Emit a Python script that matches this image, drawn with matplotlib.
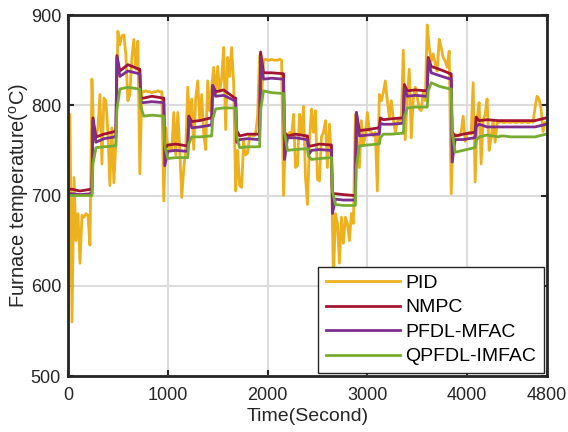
import matplotlib
matplotlib.use('Agg')
import matplotlib.pyplot as plt
import numpy as np

plt.rcParams['font.family'] = ['Liberation Sans', 'DejaVu Sans']
plt.rcParams['mathtext.fontset'] = 'custom'
plt.rcParams['mathtext.rm'] = 'Liberation Sans'

# set-point changes every 240 s
seg_start = np.arange(0, 4800, 240)

# NMPC: value just after the change, settled, mid and end of each segment
nmpc_pk = [707, 786, 855, 808, 752, 788, 822, 772, 859, 770, 755, 702, 792, 786, 823, 853, 770, 787, 783, 783]
nmpc_a = [707, 765, 838, 808, 756, 782, 815, 766, 836, 766, 755, 702, 772, 784, 816, 843, 766, 783, 783, 783]
nmpc_b = [705, 768, 845, 810, 757, 783, 817, 768, 836, 768, 757, 701, 773, 785, 817, 840, 768, 784, 783, 783]
nmpc_c = [707, 771, 840, 808, 755, 786, 808, 768, 835, 766, 756, 700, 775, 786, 816, 835, 770, 783, 783, 786]

pfdl_pk = [702, 783, 853, 803, 733, 786, 822, 759, 853, 740, 745, 680, 792, 780, 819, 851, 737, 776, 776, 776]
pfdl_a = [702, 759, 832, 803, 749, 775, 810, 762, 829, 764, 750, 696, 766, 779, 810, 836, 762, 779, 776, 776]
pfdl_b = [701, 763, 838, 804, 750, 776, 811, 763, 830, 764, 751, 695, 767, 779, 811, 833, 762, 776, 776, 776]
pfdl_c = [702, 765, 835, 803, 749, 778, 805, 762, 829, 762, 750, 695, 768, 780, 810, 829, 764, 776, 776, 779]

qp_pk = [700, 735, 795, 798, 755, 757, 785, 766, 795, 770, 744, 705, 733, 764, 787, 816, 770, 761, 766, 765]
qp_a = [700, 753, 818, 788, 741, 765, 796, 753, 816, 750, 740, 690, 755, 768, 797, 825, 748, 765, 766, 765]
qp_b = [700, 754, 820, 789, 742, 765, 797, 754, 814, 751, 741, 689, 756, 768, 798, 821, 750, 767, 765, 765]
qp_c = [700, 755, 818, 788, 742, 766, 797, 754, 813, 752, 742, 689, 757, 769, 798, 818, 753, 765, 765, 768]

# PID samples every 20 s, one row per segment
pid_rows = [
    [500, 790, 560, 720, 650, 680, 625, 678, 676, 680, 678, 645],
    [829, 760, 765, 775, 812, 735, 808, 805, 770, 711, 775, 714],
    [760, 882, 867, 877, 878, 856, 805, 812, 853, 873, 840, 871],
    [724, 815, 815, 816, 815, 815, 814, 815, 815, 816, 815, 815],
    [694, 775, 751, 755, 750, 792, 745, 792, 752, 698, 730, 751],
    [820, 783, 807, 751, 808, 827, 783, 812, 768, 751, 827, 794],
    [820, 842, 810, 843, 815, 830, 864, 773, 853, 832, 864, 825],
    [705, 750, 711, 709, 760, 745, 747, 766, 768, 766, 768, 788],
    [855, 808, 850, 851, 850, 850, 851, 850, 850, 850, 851, 850],
    [700, 765, 766, 770, 766, 790, 731, 733, 790, 768, 799, 720],
    [690, 760, 796, 770, 794, 718, 716, 765, 770, 783, 731, 779],
    [740, 605, 680, 669, 625, 676, 647, 676, 669, 650, 680, 669],
    [790, 760, 731, 783, 757, 766, 792, 772, 770, 766, 770, 705],
    [812, 805, 814, 827, 805, 787, 805, 785, 770, 781, 786, 783],
    [861, 762, 809, 840, 764, 807, 820, 809, 796, 794, 815, 805],
    [889, 864, 849, 857, 846, 838, 873, 864, 853, 849, 842, 860],
    [702, 764, 768, 766, 766, 770, 788, 760, 768, 770, 768, 825],
    [715, 785, 803, 735, 783, 790, 807, 750, 764, 783, 759, 781],
    [781, 782, 781, 781, 782, 781, 781, 782, 781, 781, 782, 781],
    [781, 782, 781, 781, 782, 781, 797, 810, 807, 797, 771, 781, 780],
]


def step_line(pk, a, b, c):
    t, v = [], []
    for k, T in enumerate(seg_start):
        if k > 0:
            t.append(T); v.append(c[k - 1])
        t += [T + 10, T + 40, T + 120, T + 232]
        v += [pk[k], a[k], b[k], c[k]]
    t[0] = 0
    t.append(4800); v.append(c[-1])
    return np.array(t), np.array(v)


pid = np.concatenate(pid_rows)
pid_t = np.arange(len(pid)) * 20

fig = plt.figure(figsize=(5.68, 4.32), dpi=100)
ax = fig.add_axes([0.1197, 0.1296, 0.8433, 0.8356])

ax.plot(pid_t, pid, color='#EDB120', lw=2, label='PID')
ax.plot(*step_line(nmpc_pk, nmpc_a, nmpc_b, nmpc_c), color='#A2142F', lw=2, label='NMPC')
ax.plot(*step_line(pfdl_pk, pfdl_a, pfdl_b, pfdl_c), color='#7E2F8E', lw=2, label='PFDL-MFAC')
ax.plot(*step_line(qp_pk, qp_a, qp_b, qp_c), color='#77AC30', lw=2, label='QPFDL-IMFAC')

ax.set_xlim(0, 4800)
ax.set_ylim(500, 900)
ax.set_xticks([0, 1000, 2000, 3000, 4000, 4800])
ax.set_yticks([500, 600, 700, 800, 900])
ax.grid(True, color='#dcdcdc', lw=1.5)
ax.set_axisbelow(True)
ax.tick_params(direction='in', top=True, right=True, length=4, width=1.5,
               labelsize=13, colors='#262626')
ax.tick_params(axis='x', pad=8)
ax.tick_params(axis='y', pad=5)
for s in ax.spines.values():
    s.set_linewidth(2)
    s.set_color('#262626')

ax.set_xlabel('Time(Second)', fontsize=14, color='#262626', labelpad=3)
ax.set_ylabel(r'Furnace temperature($^{\rm o}$C)', fontsize=14.5, color='#262626', labelpad=0)

leg = ax.legend(loc='lower right', fontsize=14, handlelength=3.8, handletextpad=0.3,
                labelspacing=0.35, borderpad=0.4, borderaxespad=0.15, fancybox=False,
                framealpha=1, edgecolor='#262626')
leg.get_frame().set_linewidth(1.0)

fig.savefig('out.png', dpi=100)
